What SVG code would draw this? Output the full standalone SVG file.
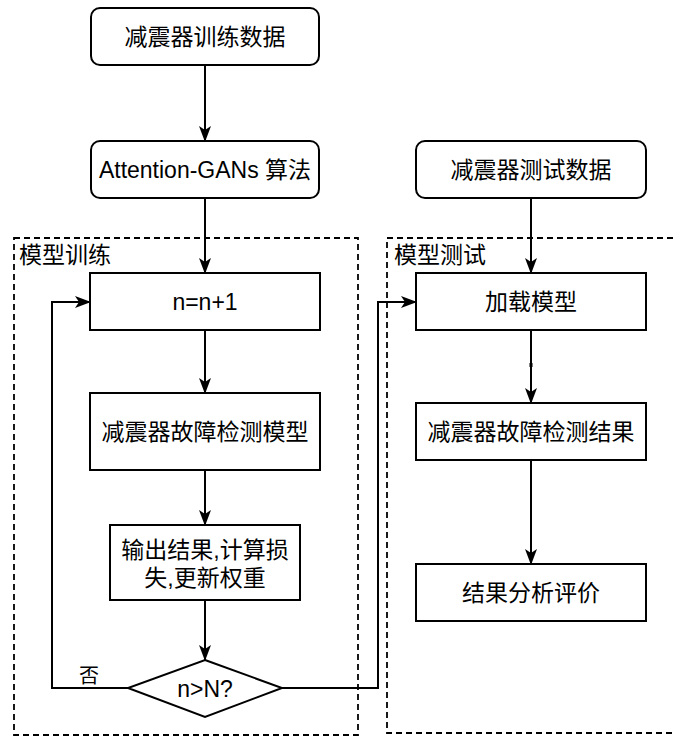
<svg xmlns="http://www.w3.org/2000/svg" width="676" height="736" viewBox="0 0 676 736">
  <style>
    .box { fill: #ffffff; stroke: #000000; stroke-width: 2; }
    .frame { fill: none; stroke: #000000; stroke-width: 1.8; stroke-dasharray: 6 4; }
    .edge { fill: none; stroke: #000000; stroke-width: 2; }
    text { font-family: "Liberation Sans", "Noto Sans CJK SC", sans-serif; font-size: 23px; fill: #000000; }
    .c { text-anchor: middle; dominant-baseline: central; }
  </style>
  <defs>
    <marker id="arrow" markerUnits="userSpaceOnUse" markerWidth="16" markerHeight="12" viewBox="0 0 16 12" refX="15" refY="6" orient="auto">
      <path d="M0,0 L16,6 L0,12 L4,6 z" fill="#000000"/>
    </marker>
  </defs>

  <rect width="676" height="736" fill="#ffffff"/>

  <!-- dashed containers -->
  <g id="group-train">
    <rect class="frame" x="14" y="238" width="344" height="497"/>
    <text x="19" y="255" dominant-baseline="central">模型训练</text>
  </g>
  <g id="group-test">
    <rect class="frame" x="387" y="238" width="320" height="495"/>
    <text x="394" y="255" dominant-baseline="central">模型测试</text>
  </g>

  <!-- connectors -->
  <g id="connectors">
    <line class="edge" x1="205" y1="65" x2="205" y2="141" marker-end="url(#arrow)"/>
    <line class="edge" x1="205" y1="198" x2="205" y2="273" marker-end="url(#arrow)"/>
    <line class="edge" x1="205" y1="330" x2="205" y2="393" marker-end="url(#arrow)"/>
    <line class="edge" x1="205" y1="470" x2="205" y2="525" marker-end="url(#arrow)"/>
    <line class="edge" x1="205" y1="600" x2="205" y2="660" marker-end="url(#arrow)"/>
    <polyline class="edge" points="128,688 52,688 52,302 90,302" marker-end="url(#arrow)"/>
    <polyline class="edge" points="282,688 378,688 378,302 416,302" marker-end="url(#arrow)"/>
    <line class="edge" x1="531" y1="198" x2="531" y2="273" marker-end="url(#arrow)"/>
    <line class="edge" x1="531" y1="330" x2="531" y2="403" marker-end="url(#arrow)"/>
    <rect x="529.5" y="363" width="3" height="4" fill="#000000"/>
    <line class="edge" x1="531" y1="460" x2="531" y2="564" marker-end="url(#arrow)"/>
    <text x="89" y="676" class="c" style="font-size:20px">否</text>
  </g>

  <!-- left column -->
  <g id="train-data">
    <rect class="box" x="91" y="8" width="228" height="57" rx="9"/>
    <text x="205" y="37" class="c">减震器训练数据</text>
  </g>
  <g id="algorithm">
    <rect class="box" x="91" y="141" width="228" height="57" rx="9"/>
    <text x="205" y="170" class="c">Attention-GANs 算法</text>
  </g>
  <g id="counter">
    <rect class="box" x="90" y="273" width="230" height="57"/>
    <text x="205" y="302" class="c">n=n+1</text>
  </g>
  <g id="detect-model">
    <rect class="box" x="90" y="393" width="230" height="77"/>
    <text x="205" y="432" class="c">减震器故障检测模型</text>
  </g>
  <g id="update">
    <rect class="box" x="110" y="525" width="190" height="75"/>
    <text x="205" y="550" class="c">输出结果,计算损</text>
    <text x="205" y="578" class="c">失,更新权重</text>
  </g>
  <g id="decision">
    <polygon class="box" points="205,660 282,688 205,717 128,688"/>
    <text x="205" y="689" class="c">n&gt;N?</text>
  </g>

  <!-- right column -->
  <g id="test-data">
    <rect class="box" x="416" y="141" width="230" height="57" rx="9"/>
    <text x="531" y="170" class="c">减震器测试数据</text>
  </g>
  <g id="load-model">
    <rect class="box" x="416" y="273" width="230" height="57"/>
    <text x="531" y="302" class="c">加载模型</text>
  </g>
  <g id="detect-result">
    <rect class="box" x="416" y="403" width="230" height="57"/>
    <text x="531" y="432" class="c">减震器故障检测结果</text>
  </g>
  <g id="evaluation">
    <rect class="box" x="416" y="564" width="230" height="57"/>
    <text x="531" y="593" class="c">结果分析评价</text>
  </g>
</svg>
